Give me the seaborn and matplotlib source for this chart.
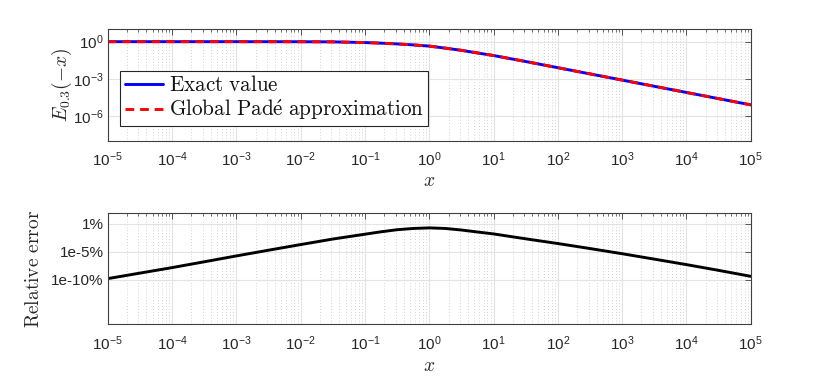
import numpy as np
import pandas as pd
import matplotlib
matplotlib.use("Agg")
import matplotlib.pyplot as plt
import matplotlib.ticker as mticker
import seaborn as sns

# ---- data ----
x_vals = [1e-5, 3.16e-5, 1e-4, 3.16e-4, 1e-3, 3.16e-3, 1e-2, 3.16e-2, 1e-1, 1.78e-1,
          3.16e-1, 5.62e-1, 1.0, 1.78, 3.16, 5.62, 10.0, 31.6, 100.0, 316.0,
          1e3, 3.16e3, 1e4, 3.16e4, 1e5]
exact_vals = [1.0, 1.0, 1.0, 0.9996, 0.999, 0.996, 0.988, 0.965, 0.85, 0.76,
              0.66, 0.55, 0.44, 0.30, 0.20, 0.123, 0.076, 0.025, 0.0079, 0.0025,
              7.9e-4, 2.5e-4, 7.9e-5, 2.5e-5, 7.9e-6]
pade_vals = list(exact_vals)
rel_err_pct = [1.55e-10, 1.5e-9, 1.45e-8, 1.6e-7, 1.8e-6, 1.9e-5, 1.95e-4, 1.9e-3, 1.4e-2, 3.8e-2,
               8.9e-2, 0.15, 0.19, 0.15, 0.079, 0.035, 0.0158, 2.1e-3, 3.0e-4, 3.8e-5,
               4.5e-6, 4.8e-7, 5.0e-8, 4.7e-9, 4.0e-10]
x_ticks = [1e-5, 1e-4, 1e-3, 1e-2, 1e-1, 1e0, 1e1, 1e2, 1e3, 1e4, 1e5]
top_yticks = [1e-6, 1e-3, 1e0]
bot_yticks = [1e-10, 1e-5, 1e0]
bot_yticklabels = ["1e-10%", "1e-5%", "1%"]
legend_labels = [r"$\mathrm{Exact\ value}$", r"$\mathrm{Global\ Pad\acute{e}\ approximation}$"]

df = pd.DataFrame({"x": x_vals, "exact": exact_vals, "pade": pade_vals, "err": rel_err_pct})

sns.set_theme(style="white")
plt.rcParams["font.family"] = ["Liberation Sans", "DejaVu Sans"]
plt.rcParams["mathtext.fontset"] = "custom"
plt.rcParams["mathtext.rm"] = "Liberation Sans"
plt.rcParams["mathtext.it"] = "Liberation Sans:italic"

fig = plt.figure(figsize=(8.30, 3.87), dpi=100)
ax1 = fig.add_axes([0.1298, 0.6364, 0.7747, 0.2879])
ax2 = fig.add_axes([0.1298, 0.1619, 0.7747, 0.2885])

spine_c = "#404040"
txt_c = "#262626"

def style_axis(ax):
    ax.set_xscale("log")
    ax.set_yscale("log")
    ax.set_xlim(1e-5, 1e5)
    ax.set_xticks(x_ticks)
    ax.xaxis.set_major_formatter(mticker.LogFormatterSciNotation())
    ax.xaxis.set_minor_locator(mticker.LogLocator(base=10, subs=np.arange(2, 10), numticks=100))
    ax.xaxis.set_minor_formatter(mticker.NullFormatter())
    ax.yaxis.set_minor_locator(mticker.NullLocator())
    ax.grid(which="major", axis="both", color="#e3e3e3", linewidth=0.8, linestyle="-")
    ax.grid(which="minor", axis="x", color="#c4c4c4", linewidth=0.6, linestyle=(0, (1, 2.5)))
    ax.set_axisbelow(True)
    ax.tick_params(which="both", direction="in", top=True, right=True, color=spine_c,
                   labelsize=11, labelcolor=txt_c)
    ax.tick_params(axis="x", which="both", pad=7)
    ax.tick_params(axis="y", which="both", pad=3)
    ax.tick_params(which="major", length=4, width=0.6)
    ax.tick_params(which="minor", length=2.5, width=0.5)
    for s in ax.spines.values():
        s.set_color(spine_c)
        s.set_linewidth(0.8)

# ---- top panel ----
sns.lineplot(data=df, x="x", y="exact", ax=ax1, color="#0000ff", linewidth=2.1,
             label=legend_labels[0], sort=False, estimator=None)
sns.lineplot(data=df, x="x", y="pade", ax=ax1, color="#ff0000", linewidth=2.1,
             label=legend_labels[1], sort=False, estimator=None)
ax1.lines[-1].set_dashes([3, 2])
style_axis(ax1)
ax1.set_ylim(1e-8, 1e1)
ax1.set_yticks(top_yticks)
ax1.yaxis.set_major_formatter(mticker.LogFormatterSciNotation())
ax1.set_xlabel(r"$x$", fontsize=14, math_fontfamily="cm", color=txt_c, labelpad=3)
ax1.set_ylabel(r"$E_{0.3}(-x)$", fontsize=14, math_fontfamily="cm", color=txt_c, labelpad=-1)
leg = ax1.legend(loc="upper left", bbox_to_anchor=(0.0196, 0.628), borderaxespad=0,
                 fontsize=15.2, frameon=True, fancybox=False, framealpha=1,
                 edgecolor="#262626", handlelength=1.8, handletextpad=0.3,
                 borderpad=0.2, labelspacing=0.1)
leg.get_frame().set_linewidth(0.8)
for t in leg.get_texts():
    t.set_math_fontfamily("cm")
    t.set_color("#111111")

# ---- bottom panel ----
sns.lineplot(data=df, x="x", y="err", ax=ax2, color="black", linewidth=2.1,
             sort=False, estimator=None, legend=False)
style_axis(ax2)
ax2.set_ylim(1e-18, 1e2)
ax2.set_yticks(bot_yticks)
ax2.set_yticklabels(bot_yticklabels)
ax2.set_xlabel(r"$x$", fontsize=14, math_fontfamily="cm", color=txt_c, labelpad=4)
ax2.set_ylabel(r"$\mathrm{Relative\ error}$", fontsize=14, math_fontfamily="cm",
               color=txt_c, labelpad=6)

fig.savefig("out.png", dpi=100, facecolor="white")
